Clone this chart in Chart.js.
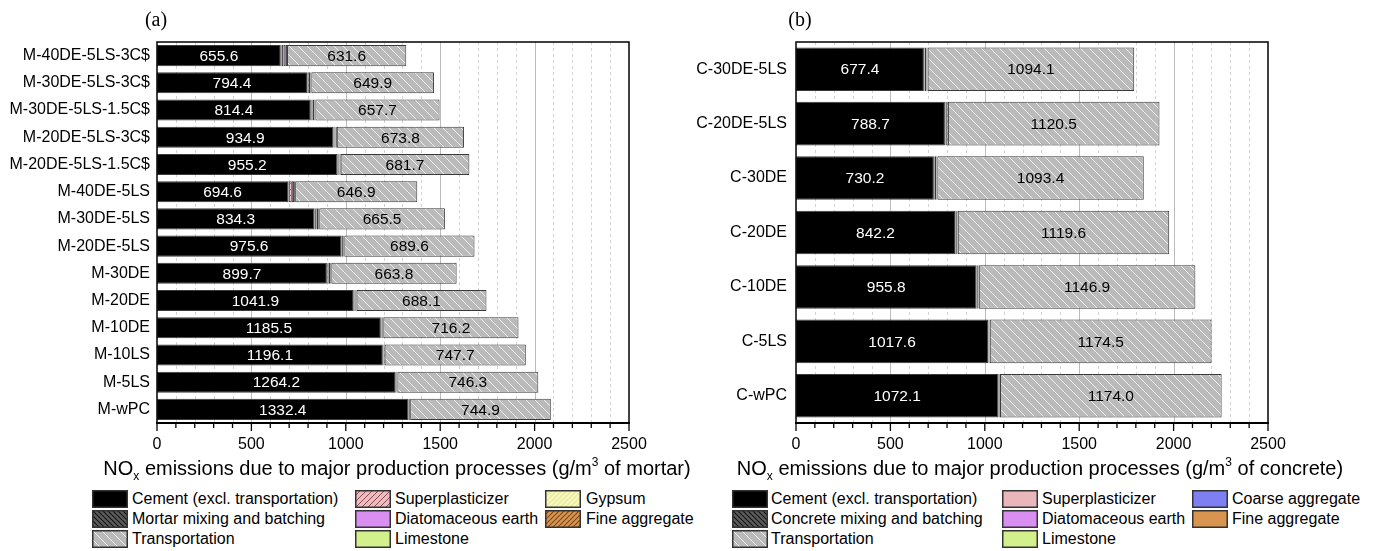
<!DOCTYPE html>
<html>
<head>
<meta charset="utf-8">
<script src="https://cdn.jsdelivr.net/npm/chart.js@4/dist/chart.umd.min.js"></script>
<style>
  html, body { margin: 0; padding: 0; background: #fff; }
  #page { position: relative; width: 1378px; height: 551px; overflow: hidden; background: #fff; font-family: "Liberation Sans", Arial, sans-serif; color: #000; }
  canvas.chart { position: absolute; top: 0; }
  .panel-tag { position: absolute; top: 8px; font-family: "Liberation Serif", "Times New Roman", serif; font-size: 20px; transform: translateX(-50%); }
  .axis-title { position: absolute; top: 455px; font-size: 20px; white-space: nowrap; transform: translateX(-50%); }
  .axis-title sub { font-size: 12px; vertical-align: -5px; }
  .axis-title sup { font-size: 12px; vertical-align: 9px; }
  .legend { position: absolute; top: 490px; }
  .legend .item { position: absolute; height: 18px; white-space: nowrap; font-size: 16px; line-height: 18px; }
  .legend .item canvas { position: absolute; left: 0; top: 0; }
  .legend .item span { position: absolute; top: 0; }
</style>
</head>
<body>
<div id="page">
  <canvas id="mortar" class="chart" width="690" height="460" style="left:0"></canvas>
  <canvas id="concrete" class="chart" width="688" height="460" style="left:690px"></canvas>
  <div class="panel-tag" style="left:156px">(a)</div>
  <div class="panel-tag" style="left:800px">(b)</div>
  <div class="axis-title" style="left:397px">NO<sub>x</sub> emissions due to major production processes (g/m<sup>3</sup> of mortar)</div>
  <div class="axis-title" style="left:1040px">NO<sub>x</sub> emissions due to major production processes (g/m<sup>3</sup> of concrete)</div>
  <div id="legendMortar" class="legend"></div>
  <div id="legendConcrete" class="legend"></div>
</div>
<script>
// ---- (a) mortar mixtures ----
const mortarLabels = ['M-40DE-5LS-3C$', 'M-30DE-5LS-3C$', 'M-30DE-5LS-1.5C$', 'M-20DE-5LS-3C$', 'M-20DE-5LS-1.5C$',
  'M-40DE-5LS', 'M-30DE-5LS', 'M-20DE-5LS', 'M-30DE', 'M-20DE', 'M-10DE', 'M-10LS', 'M-5LS', 'M-wPC'];
const mortarCement = [655.6, 794.4, 814.4, 934.9, 955.2, 694.6, 834.3, 975.6, 899.7, 1041.9, 1185.5, 1196.1, 1264.2, 1332.4];
const mortarMixing = [3.4, 3.4, 3.4, 3.4, 3.4, 3.4, 3.4, 3.4, 3.4, 3.4, 3.4, 3.4, 3.4, 3.4];
const mortarSuperplasticizer = [11, 4, 6, 1.5, 2, 16, 7, 1.5, 6, 0.5, 0.5, 0, 0, 0];
const mortarDiatomite = [12, 9, 9, 6, 6, 12, 9, 6, 9, 6, 4, 0, 0, 0];
const mortarLimestone = [0.5, 0.5, 0.5, 0.5, 0.5, 0.5, 0.5, 0.5, 0, 0, 0, 1, 0.5, 0];
const mortarGypsum = [1, 1, 0.5, 1, 0.5, 0, 0, 0, 0, 0, 0, 0, 0, 0];
const mortarFineAgg = [5.2, 5.2, 5.2, 5.2, 5.2, 5.2, 5.2, 5.2, 5.2, 5.2, 5.2, 5.2, 5.2, 5.2];
const mortarTransport = [631.6, 649.9, 657.7, 673.8, 681.7, 646.9, 665.5, 689.6, 663.8, 688.1, 716.2, 747.7, 746.3, 744.9];

// ---- (b) concrete mixtures ----
const concreteLabels = ['C-30DE-5LS', 'C-20DE-5LS', 'C-30DE', 'C-20DE', 'C-10DE', 'C-5LS', 'C-wPC'];
const concreteCement = [677.4, 788.7, 730.2, 842.2, 955.8, 1017.6, 1072.1];
const concreteMixing = [3.0, 3.0, 3.0, 3.0, 3.0, 3.0, 3.0];
const concreteSuperplasticizer = [1, 0.6, 0, 0, 0, 0, 0];
const concreteDiatomite = [10, 6.5, 10, 6.5, 4.2, 0, 0];
const concreteLimestone = [0.5, 0.5, 0, 0, 0, 0.5, 0];
const concreteCoarseAgg = [2.8, 2.8, 2.8, 2.8, 2.8, 2.8, 2.8];
const concreteFineAgg = [2.6, 2.6, 2.6, 2.6, 2.6, 2.6, 2.6];
const concreteTransport = [1094.1, 1120.5, 1093.4, 1119.6, 1146.9, 1174.5, 1174.0];

const axisTicks = [0, 500, 1000, 1500, 2000, 2500];

const FONT = '"Liberation Sans", Arial, sans-serif';

// Diagonal hatch tile: '\\' runs top-left to bottom-right, '/' the other way
function hatch(ctx, bg, fg, dir, step, lw) {
  const c = document.createElement('canvas');
  c.width = c.height = step;
  const g = c.getContext('2d');
  g.fillStyle = bg;
  g.fillRect(0, 0, step, step);
  if (fg) {
    g.strokeStyle = fg;
    g.lineWidth = lw || 1;
    g.beginPath();
    for (let k = -1; k <= 1; k++) {
      if (dir === '\\') { g.moveTo(0, k * step); g.lineTo(step, step + k * step); }
      else { g.moveTo(0, step + k * step); g.lineTo(step, k * step); }
    }
    g.stroke();
  }
  return ctx.createPattern(c, 'repeat');
}

function fills(ctx) {
  return {
    cement: '#000000',
    mixing: hatch(ctx, '#5c5c5c', '#151515', '\\', 5, 1.2),
    transport: hatch(ctx, '#bababa', '#eeeeee', '\\', 9, 1),
    spHatch: hatch(ctx, '#ecbcc0', '#8a4a4e', '/', 6, 1),
    spPlain: '#e9b7bb',
    diatomite: '#d98ef2',
    limestone: '#d2f08c',
    gypsum: hatch(ctx, '#eeeea0', '#fbfbd8', '/', 5, 1.2),
    fineHatch: hatch(ctx, '#d99550', '#7a4a1e', '/', 5, 1.2),
    finePlain: '#d9944f',
    coarse: '#7f7ff4'
  };
}

// Grid lines every 100 (solid at every 500), plot frame and outward ticks
function framePlugin() {
  return {
    id: 'frame',
    beforeDatasetsDraw(chart) {
      const { ctx, chartArea: a, scales: { x } } = chart;
      ctx.save();
      for (let v = 100; v < 2500; v += 100) {
        const px = Math.round(x.getPixelForValue(v)) + 0.5;
        ctx.beginPath();
        if (v % 500 === 0) { ctx.setLineDash([]); ctx.strokeStyle = '#bcbcbc'; }
        else { ctx.setLineDash([3, 3]); ctx.strokeStyle = '#d2d2d2'; }
        ctx.lineWidth = 1;
        ctx.moveTo(px, a.top);
        ctx.lineTo(px, a.bottom);
        ctx.stroke();
      }
      ctx.restore();
    },
    afterDraw(chart) {
      const { ctx, chartArea: a, scales: { x } } = chart;
      ctx.save();
      ctx.strokeStyle = '#000';
      ctx.lineWidth = 1.5;
      ctx.strokeRect(a.left, a.top, a.right - a.left, a.bottom - a.top);
      ctx.lineWidth = 2;
      ctx.beginPath();
      ctx.moveTo(a.left - 1, a.bottom);
      ctx.lineTo(a.right + 1, a.bottom);
      ctx.stroke();
      ctx.lineWidth = 1.3;
      for (let v = 0; v <= 2500; v += 100) {
        const px = x.getPixelForValue(v);
        const len = v % 500 === 0 ? 8 : 5;
        ctx.beginPath();
        ctx.moveTo(px, a.bottom);
        ctx.lineTo(px, a.bottom + len);
        ctx.stroke();
      }
      ctx.restore();
    }
  };
}

// Value labels in the cement (white) and transportation (black) segments
function valueLabelPlugin(cementIdx, transportIdx) {
  return {
    id: 'valueLabels',
    afterDatasetsDraw(chart) {
      const ctx = chart.ctx;
      ctx.save();
      ctx.font = '15.5px ' + FONT;
      ctx.textAlign = 'center';
      ctx.textBaseline = 'middle';
      [[cementIdx, '#ffffff'], [transportIdx, '#000000']].forEach(([di, col]) => {
        const meta = chart.getDatasetMeta(di);
        const vals = chart.data.datasets[di].data;
        ctx.fillStyle = col;
        meta.data.forEach((el, i) => {
          ctx.fillText(vals[i].toFixed(1), (el.x + el.base) / 2, el.y + 1);
        });
      });
      ctx.restore();
    }
  };
}

function buildChart(canvasId, labels, series, opts) {
  const canvas = document.getElementById(canvasId);
  const ctx = canvas.getContext('2d');
  const datasets = series.map(s => ({
    label: s.label,
    data: s.data,
    backgroundColor: s.fill,
    borderColor: '#3a3a3a',
    borderWidth: 1,
    borderSkipped: false,
    barPercentage: opts.barPct,
    categoryPercentage: 1
  }));
  return new Chart(ctx, {
    type: 'bar',
    data: { labels, datasets },
    options: {
      indexAxis: 'y',
      responsive: false,
      animation: false,
      devicePixelRatio: 1,
      layout: { padding: { top: opts.top, right: opts.right, left: 0, bottom: 0 } },
      plugins: { legend: { display: false }, tooltip: { enabled: false } },
      scales: {
        x: {
          stacked: true,
          min: 0, max: 2500,
          afterBuildTicks: s => { s.ticks = axisTicks.map(v => ({ value: v })); },
          afterFit: s => { s.height = 460 - 423; },
          grid: { display: false, drawTicks: false },
          border: { display: false },
          ticks: { color: '#000', font: { family: FONT, size: 16 }, padding: 12, maxRotation: 0, callback: v => String(v) }
        },
        y: {
          stacked: true,
          afterFit: s => { s.width = opts.yWidth; },
          grid: { display: false, drawTicks: false },
          border: { display: false },
          ticks: { color: '#000', font: { family: FONT, size: 16 }, padding: opts.yPad, autoSkip: false }
        }
      }
    },
    plugins: [framePlugin(), valueLabelPlugin(0, series.length - 1)]
  });
}

function buildLegend(divId, cols, items) {
  const div = document.getElementById(divId);
  items.forEach(it => {
    const el = document.createElement('div');
    el.className = 'item';
    el.style.left = cols[it.col].sw + 'px';
    el.style.top = (it.row * 20) + 'px';
    const c = document.createElement('canvas');
    c.width = 36; c.height = 18;
    const g = c.getContext('2d');
    g.fillStyle = it.fill;
    g.fillRect(0, 0, 36, 18);
    g.strokeStyle = '#333';
    g.lineWidth = 1.5;
    g.strokeRect(0.75, 0.75, 34.5, 16.5);
    const t = document.createElement('span');
    t.style.left = (cols[it.col].tx - cols[it.col].sw) + 'px';
    t.textContent = it.label;
    el.appendChild(c);
    el.appendChild(t);
    div.appendChild(el);
  });
}

// (a)
const fm = fills(document.getElementById('mortar').getContext('2d'));
const mortarSeries = [
  { label: 'Cement (excl. transportation)', data: mortarCement, fill: fm.cement },
  { label: 'Mortar mixing and batching', data: mortarMixing, fill: fm.mixing },
  { label: 'Superplasticizer', data: mortarSuperplasticizer, fill: fm.spHatch },
  { label: 'Diatomaceous earth', data: mortarDiatomite, fill: fm.diatomite },
  { label: 'Limestone', data: mortarLimestone, fill: fm.limestone },
  { label: 'Gypsum', data: mortarGypsum, fill: fm.gypsum },
  { label: 'Fine aggregate', data: mortarFineAgg, fill: fm.fineHatch },
  { label: 'Transportation', data: mortarTransport, fill: fm.transport }
];
buildChart('mortar', mortarLabels, mortarSeries, { top: 42, right: 690 - 629, yWidth: 157, yPad: 7, barPct: 0.775 });
buildLegend('legendMortar', [{ sw: 92, tx: 132 }, { sw: 355, tx: 395 }, { sw: 545, tx: 586 }], [
  { col: 0, row: 0, label: 'Cement (excl. transportation)', fill: fm.cement },
  { col: 0, row: 1, label: 'Mortar mixing and batching', fill: fm.mixing },
  { col: 0, row: 2, label: 'Transportation', fill: fm.transport },
  { col: 1, row: 0, label: 'Superplasticizer', fill: fm.spHatch },
  { col: 1, row: 1, label: 'Diatomaceous earth', fill: fm.diatomite },
  { col: 1, row: 2, label: 'Limestone', fill: fm.limestone },
  { col: 2, row: 0, label: 'Gypsum', fill: fm.gypsum },
  { col: 2, row: 1, label: 'Fine aggregate', fill: fm.fineHatch }
]);

// (b)
const fc = fills(document.getElementById('concrete').getContext('2d'));
const concreteSeries = [
  { label: 'Cement (excl. transportation)', data: concreteCement, fill: fc.cement },
  { label: 'Concrete mixing and batching', data: concreteMixing, fill: fc.mixing },
  { label: 'Superplasticizer', data: concreteSuperplasticizer, fill: fc.spPlain },
  { label: 'Diatomaceous earth', data: concreteDiatomite, fill: fc.diatomite },
  { label: 'Limestone', data: concreteLimestone, fill: fc.limestone },
  { label: 'Coarse aggregate', data: concreteCoarseAgg, fill: fc.coarse },
  { label: 'Fine aggregate', data: concreteFineAgg, fill: fc.finePlain },
  { label: 'Transportation', data: concreteTransport, fill: fc.transport }
];
buildChart('concrete', concreteLabels, concreteSeries, { top: 42, right: 688 - 578, yWidth: 106, yPad: 9, barPct: 0.8 });
buildLegend('legendConcrete', [{ sw: 732, tx: 771 }, { sw: 1002, tx: 1042 }, { sw: 1192, tx: 1232 }], [
  { col: 0, row: 0, label: 'Cement (excl. transportation)', fill: fc.cement },
  { col: 0, row: 1, label: 'Concrete mixing and batching', fill: fc.mixing },
  { col: 0, row: 2, label: 'Transportation', fill: fc.transport },
  { col: 1, row: 0, label: 'Superplasticizer', fill: fc.spPlain },
  { col: 1, row: 1, label: 'Diatomaceous earth', fill: fc.diatomite },
  { col: 1, row: 2, label: 'Limestone', fill: fc.limestone },
  { col: 2, row: 0, label: 'Coarse aggregate', fill: fc.coarse },
  { col: 2, row: 1, label: 'Fine aggregate', fill: fc.finePlain }
]);
</script>
</body>
</html>
